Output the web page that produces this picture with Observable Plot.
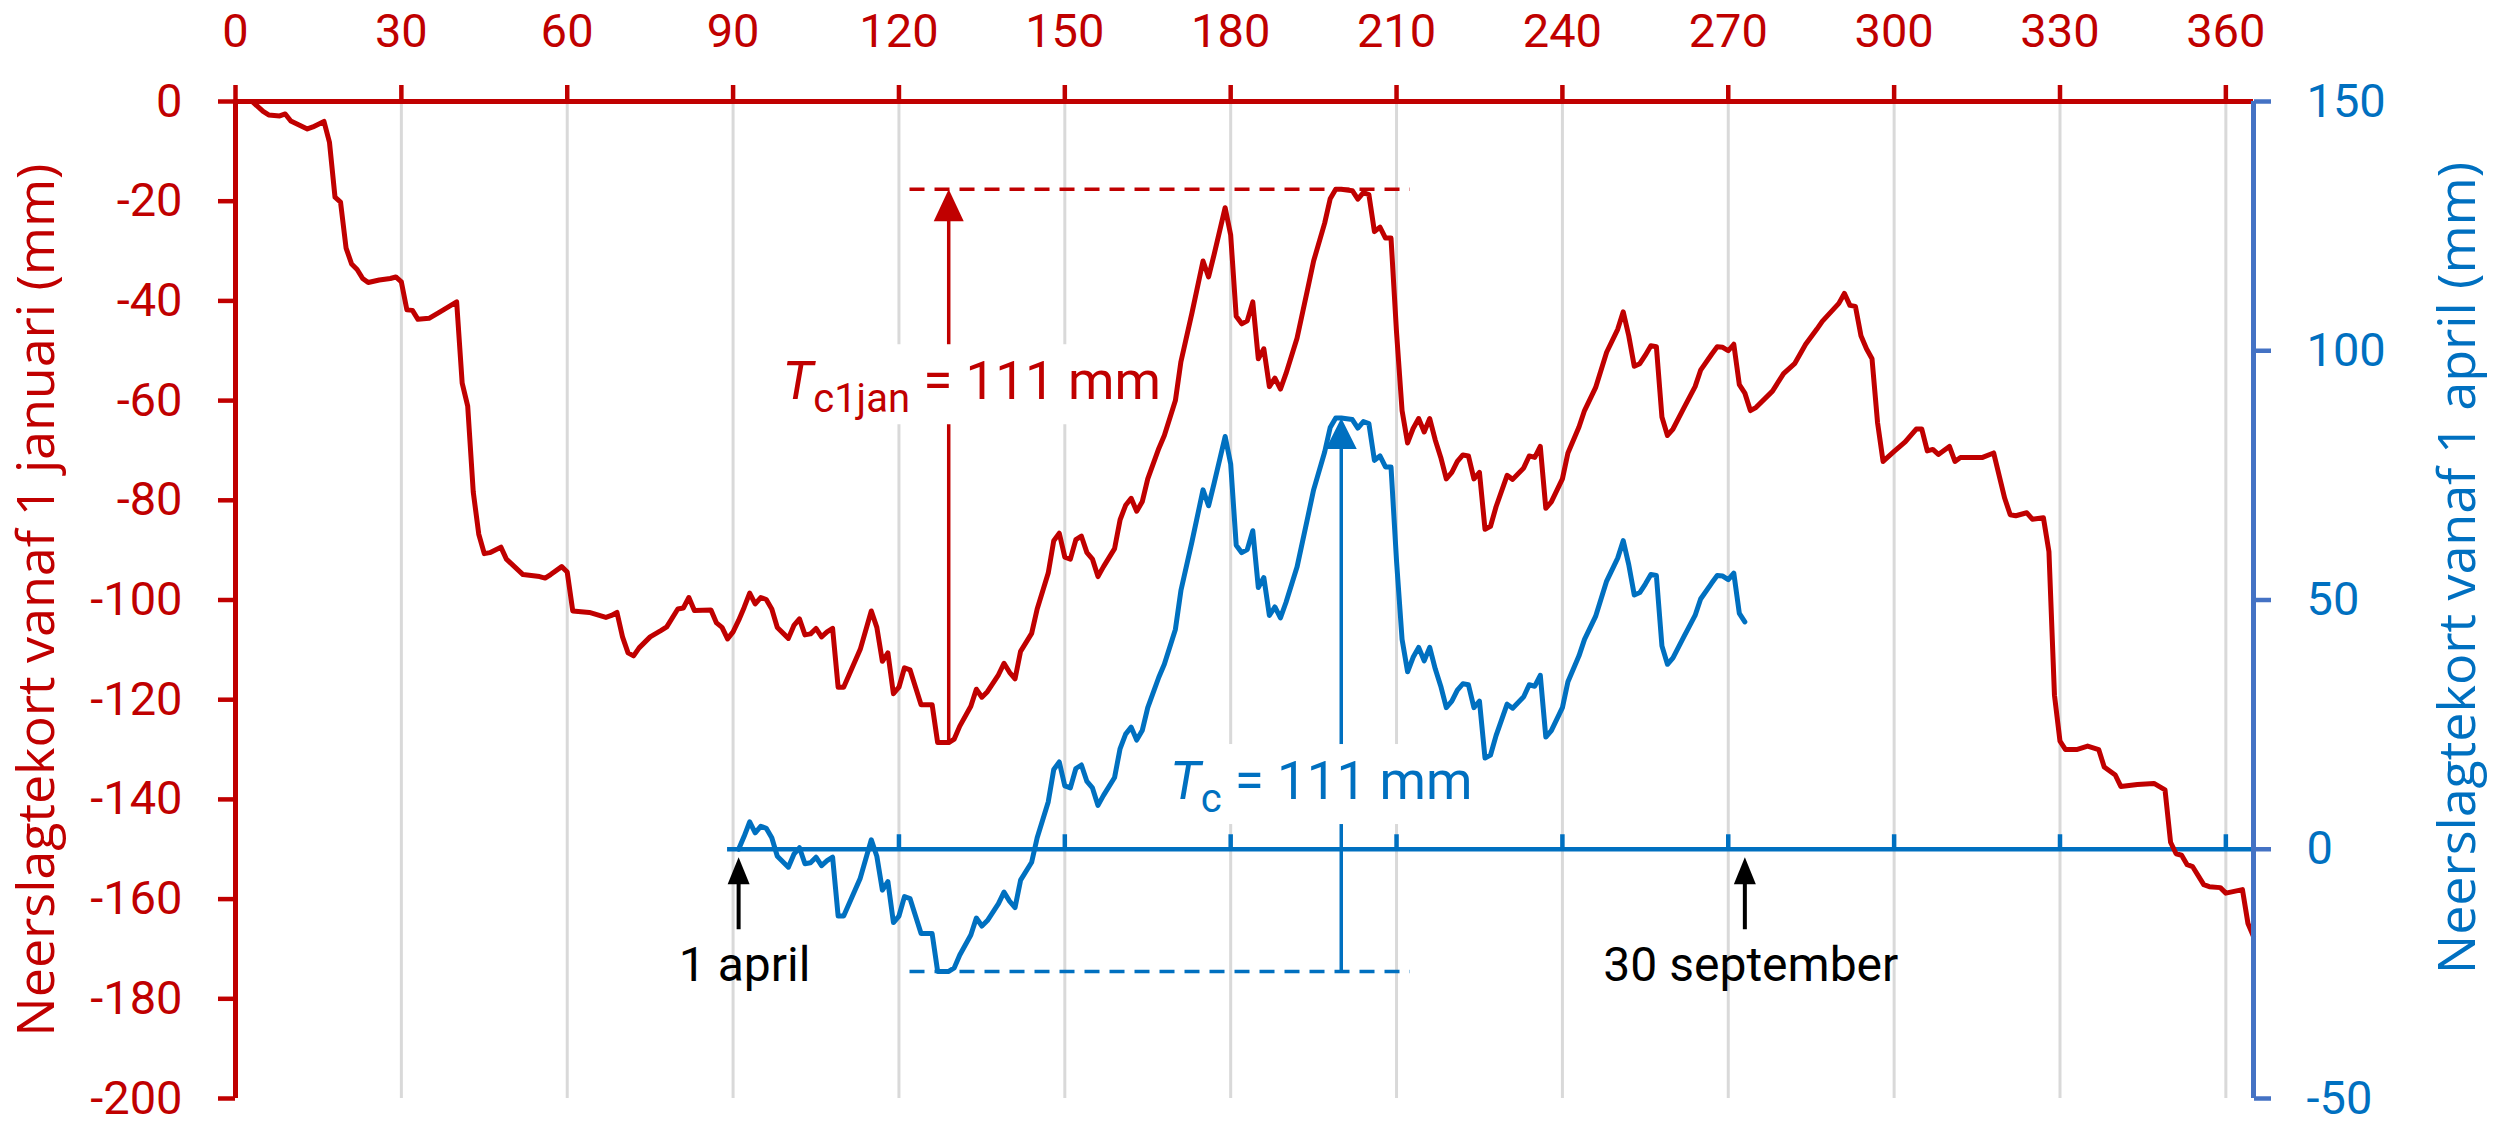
<!DOCTYPE html>
<html>
<head>
<meta charset="utf-8">
<script src="https://cdn.jsdelivr.net/npm/d3@7"></script>
<script src="https://cdn.jsdelivr.net/npm/@observablehq/plot@0.6"></script>
<style>
  html, body { margin: 0; padding: 0; background: #fff; }
  #chart svg { display: block; }
</style>
</head>
<body>
<div id="chart"></div>
<script>
// Day of the year (1 January = 0)
const days = [
  0, 3, 5, 6, 8, 9, 10, 13, 14, 16, 17, 18, 19, 20, 21, 22, 23, 24, 26, 28, 29, 30,
  31, 32, 33, 35, 37, 40, 41, 42, 43, 44, 45, 46, 48, 49, 52, 55, 56, 57, 59, 60,
  61, 64, 67, 68, 69, 70, 71, 72, 73, 75, 77, 78, 80, 81, 82, 83, 86, 87, 88, 89, 90,
  91, 92, 93, 94, 95, 96, 97, 98, 100, 101, 102, 103, 104, 105, 106, 107, 108, 109, 110,
  113, 115, 116, 117, 118, 119, 120, 121, 122, 123, 124, 126, 127, 129, 130, 131, 133,
  134, 135, 136, 138, 139, 140, 141, 142, 144, 145, 147, 148, 149, 150, 151, 152, 153,
  154, 155, 156, 157, 159, 160, 161, 162, 163, 164, 165, 167, 168, 170, 171, 173, 175,
  176, 177, 179, 180, 181, 182, 183, 184, 185, 186, 187, 188, 189, 190, 192, 194, 195,
  197, 198, 199, 200, 202, 203, 204, 205, 206, 207, 208, 209, 210, 211, 212, 213, 214,
  215, 216, 217, 218, 219, 220, 221, 222, 223, 224, 225, 226, 227, 228, 230, 231, 233,
  234, 235, 236, 237, 238, 240, 241, 243, 244, 246, 248, 250, 251, 252, 253, 254, 255,
  256, 257, 258, 259, 260, 262, 264, 265, 267, 268, 269, 270, 271, 272, 273, 274, 275,
  278, 280, 282, 284, 286, 287, 290, 291, 292, 293, 294, 295, 296, 297, 298, 300, 302,
  304, 305, 306, 307, 308, 310, 311, 312, 316, 318, 320, 321, 322, 324, 325, 327, 328,
  329, 330, 331, 333, 335, 337, 338, 340, 341, 344, 347, 349, 350, 351, 352, 353, 354,
  356, 357, 359, 360, 363, 364, 365
];

// Cumulative precipitation deficit since 1 January (mm), one value per entry in `days`
const deficitJan = [
  0, 0, -2, -2.7, -2.9, -2.5, -3.9, -5.5, -5.1, -4, -8.2, -19.2, -20.2, -29.4, -32.6, -33.7, -35.5, -36.3, -35.8, -35.5, -35.2, -36.2,
  -41.8, -41.9, -43.7, -43.5, -42.2, -40.2, -56.5, -61.1, -78.3, -86.8, -90.7, -90.5, -89.4, -91.8, -94.9, -95.3, -95.6, -94.9, -93.3, -94.4,
  -102.2, -102.5, -103.5, -103.1, -102.5, -107.4, -110.6, -111.2, -109.6, -107.4, -106.1, -105.4, -101.8, -101.6, -99.5, -102.1, -102, -104.6, -105.5, -107.8, -106.4,
  -104.1, -101.5, -98.6, -100.8, -99.5, -99.9, -101.8, -105.5, -107.7, -105.1, -103.8, -107, -106.8, -105.7, -107.4, -106.4, -105.7, -117.5, -117.5,
  -109.9, -102.2, -105.5, -112.3, -110.6, -118.8, -117.5, -113.6, -114, -117.5, -121, -121, -128.6, -128.6, -127.9, -125.3, -121.3,
  -117.9, -119.5, -118.4, -115, -112.7, -114.5, -115.8, -110.3, -106.7, -101.8, -94.6, -88.1, -86.6, -91.4, -91.8, -87.9, -87.2,
  -90.5, -91.8, -95.3, -93.3, -89.7, -83.9, -81, -79.6, -82.2, -80.3, -75.7, -69.6, -67, -60, -52.2, -42.4, -32,
  -35.2, -30.7, -21.3, -26.8, -43.1, -44.6, -44, -40.2, -51.6, -49.6, -57.2, -55.5, -57.7, -54.6, -47.5, -37.2, -32,
  -24.4, -19.5, -17.6, -17.6, -17.9, -19.6, -18.3, -18.7, -26.1, -25.2, -27.4, -27.4, -46.3, -62, -68.5, -65.6, -63.6,
  -66.3, -63.6, -67.9, -71.4, -75.7, -74.4, -72.2, -70.9, -71.1, -75.7, -74.4, -85.8, -85.2, -81.3, -75, -75.8, -73.5,
  -71.1, -71.4, -69.2, -81.6, -80.3, -75.7, -70.5, -65.3, -62, -57.4, -50.3, -45.7, -42.2, -47, -53.1, -52.6, -50.9,
  -49, -49.2, -63.3, -67, -65.7, -61.4, -57.2, -53.9, -50.7, -49.2, -49.3, -50, -48.7, -56.8, -58.5, -62, -61.4,
  -58.1, -54.6, -52.6, -48.7, -45.7, -44.1, -40.5, -38.5, -40.9, -41.1, -47, -49.6, -51.6, -64.4, -72.2, -70.2, -68.3,
  -65.7, -65.7, -70.1, -69.8, -70.8, -69.2, -72.2, -71.4, -71.4, -70.5, -79.6, -82.9, -83.1, -82.5, -83.8, -83.5, -90.3,
  -119.1, -128.3, -130, -130, -129.3, -130, -133.5, -135.1, -137.4, -137, -136.8, -138.1, -148.6, -150.9, -151.2, -153.1, -153.5,
  -157.1, -157.5, -157.7, -158.8, -158.1, -164.9, -167.5
];

// Season markers (day of year)
const april1 = 91;
const september30 = 273;
const markers = [
  {day: april1, label: "1 april"},
  {day: september30, label: "30 september"}
];

// Axis ticks
const xTicks = d3.range(0, 361, 30);
const gridDays = d3.range(30, 361, 30);
const leftTicks = d3.range(-200, 1, 20);
const rightTicks = [-50, 0, 50, 100, 150];
const aprilAxisTicks = d3.range(120, 361, 30);

// The secondary axis (deficit since 1 April) has its zero at -150 on the primary axis
const rightOffset = 150;
const xMax = 365;
const aprilAxisStart = april1 - 2;
const spanStart = 122, spanEnd = 212.5;  // extent of the dashed reference lines

const red = "#c00000";
const blue = "#0070c0";
const axisBlue = "#4472c4";
const grid = "#d9d9d9";

// Series
const jan = days.map((d, i) => ({day: d, value: deficitJan[i]}));
const base = jan.find(d => d.day === april1).value;
const apr = jan
  .filter(d => d.day >= april1 && d.day <= september30)
  .map(d => ({day: d.day, value: d.value - base}));
const season = jan.filter(d => d.day >= april1 && d.day <= september30);

// Largest rise of the deficit within the season
const lowJ = d3.min(season, d => d.value);
const highJ = d3.max(season, d => d.value);
const lowDayJ = season.filter(d => d.value === lowJ).at(-1).day;
const lowA = d3.min(apr, d => d.value);
const highA = d3.max(apr, d => d.value);
const highDayA = apr.filter(d => d.value === highA).at(-1).day;
const tcJan = Math.round(highJ - lowJ);
const tcApr = Math.round(highA - lowA);

// Custom symbols, drawn in pixels around the anchor point
const head = (w, h) => ({draw(ctx) { ctx.moveTo(0, 0); ctx.lineTo(w / 2, h); ctx.lineTo(-w / 2, h); ctx.closePath(); }});
const tickUp = {draw(ctx) { ctx.moveTo(0, 0); ctx.lineTo(0, -15); }};
const markerShaft = {draw(ctx) { ctx.moveTo(0, 20); ctx.lineTo(0, 80); }};

const chart = Plot.plot({
  width: 2509,
  height: 1124,
  marginLeft: 235,
  marginRight: 256,
  marginTop: 101,
  marginBottom: 26,
  x: {domain: [0, xMax], axis: null},
  y: {domain: [-200, 0], axis: null},
  style: {fontFamily: "Roboto, sans-serif", background: "#fff", overflow: "visible"},
  marks: [
    // vertical grid
    Plot.ruleX(gridDays, {stroke: grid, strokeWidth: 3}),

    // secondary horizontal axis at zero of the 1 April series
    Plot.ruleY([-rightOffset], {x1: aprilAxisStart, x2: xMax, stroke: blue, strokeWidth: 4.5}),
    Plot.dot(aprilAxisTicks, {x: d => d, y: () => -rightOffset, symbol: tickUp, stroke: blue, strokeWidth: 4.5, fill: "none"}),

    // dashed reference levels
    Plot.ruleY([highJ], {x1: spanStart, x2: spanEnd, stroke: red, strokeWidth: 3.5, strokeDasharray: "15,10"}),
    Plot.ruleY([lowA - rightOffset], {x1: spanStart, x2: spanEnd, stroke: blue, strokeWidth: 3.5, strokeDasharray: "15,10"}),

    // Tc arrows
    Plot.ruleX([lowDayJ], {y1: highJ, y2: lowJ, stroke: red, strokeWidth: 3.5, insetTop: 14}),
    Plot.dot([lowDayJ], {x: d => d, y: () => highJ, symbol: head(30, 32), fill: red, stroke: "none"}),
    Plot.ruleX([highDayA], {y1: highA - rightOffset, y2: lowA - rightOffset, stroke: blue, strokeWidth: 3.5, insetTop: 14}),
    Plot.dot([highDayA], {x: d => d, y: () => highA - rightOffset, symbol: head(31, 31), fill: blue, stroke: "none"}),

    // season markers
    Plot.dot(markers, {x: "day", y: () => -rightOffset, symbol: markerShaft, stroke: "#000", strokeWidth: 4, fill: "none"}),
    Plot.dot(markers, {x: "day", y: () => -rightOffset, dy: 8, symbol: head(22, 27), fill: "#000", stroke: "none"}),
    Plot.text(markers, {x: "day", y: () => -rightOffset, text: "label", dy: 132, dx: 6, lineAnchor: "bottom",
      textAnchor: "middle", fontSize: 48, fill: "#000"}),

    // Tc labels (the | marks split off the subscript)
    Plot.text([`T|c1jan| = ${tcJan} mm`], {x: () => lowDayJ, y: () => highJ, dx: 23, dy: 210,
      lineAnchor: "bottom", textAnchor: "middle", fontSize: 53, fill: red}),
    Plot.text([`T|c| = ${tcApr} mm`], {x: () => highDayA, y: () => highA - rightOffset, dx: -20, dy: 381,
      lineAnchor: "bottom", textAnchor: "middle", fontSize: 53, fill: blue}),

    // series
    Plot.line(jan, {x: "day", y: "value", stroke: red, strokeWidth: 5, strokeLinejoin: "round"}),
    Plot.line(apr, {x: "day", y: d => d.value - rightOffset, stroke: blue, strokeWidth: 5, strokeLinejoin: "round"}),

    // axis lines
    Plot.ruleY([0], {stroke: red, strokeWidth: 5}),
    Plot.ruleX([0], {stroke: red, strokeWidth: 5}),
    Plot.ruleX([xMax], {stroke: axisBlue, strokeWidth: 5}),

    // axes
    Plot.axisX({anchor: "top", ticks: xTicks, tickFormat: d => String(d), tickSize: 17, tickPadding: 38,
      stroke: red, fill: red, strokeWidth: 4.5, fontSize: 47, label: null}),
    Plot.axisY({anchor: "left", ticks: leftTicks, tickFormat: d => String(d), tickSize: 17, tickPadding: 36,
      stroke: red, fill: red, strokeWidth: 4.5, fontSize: 47, label: null}),
    Plot.axisY({anchor: "right", ticks: rightTicks.map(v => v - rightOffset), tickFormat: d => String(d + rightOffset),
      tickSize: 17, tickPadding: 36, stroke: axisBlue, fill: blue, strokeWidth: 4.5, fontSize: 47, label: null}),

    // axis titles
    Plot.text(["Neerslagtekort vanaf 1 januari (mm)"], {frameAnchor: "left", rotate: -90, dx: -198,
      textAnchor: "middle", lineAnchor: "middle",
      fontFamily: "'Open Sans', sans-serif", fontSize: 52, fill: red}),
    Plot.text(["Neerslagtekort vanaf 1 april (mm)"], {frameAnchor: "right", rotate: -90, dx: 205, dy: -32,
      textAnchor: "middle", lineAnchor: "middle",
      fontFamily: "'Open Sans', sans-serif", fontSize: 52, fill: blue})
  ]
});

document.getElementById("chart").append(chart);

// Italic T with a lowered subscript, set on a white box
const ns = "http://www.w3.org/2000/svg";
chart.querySelectorAll("text").forEach(t => {
  if (!t.textContent.includes("|")) return;
  const [main, sub, rest] = t.textContent.split("|");
  t.textContent = "";
  const a = document.createElementNS(ns, "tspan");
  a.setAttribute("font-style", "italic");
  a.textContent = main;
  const b = document.createElementNS(ns, "tspan");
  b.setAttribute("font-size", 40);
  b.setAttribute("dy", 13);
  b.textContent = sub;
  const c = document.createElementNS(ns, "tspan");
  c.setAttribute("dy", -13);
  c.textContent = rest;
  t.append(a, b, c);
  const bb = t.getBBox();
  const r = document.createElementNS(ns, "rect");
  r.setAttribute("x", bb.x - 12);
  r.setAttribute("y", bb.y - 6);
  r.setAttribute("width", bb.width + 24);
  r.setAttribute("height", bb.height + 8);
  r.setAttribute("fill", "#fff");
  r.setAttribute("stroke", "none");
  const tr = t.getAttribute("transform");
  if (tr) r.setAttribute("transform", tr);
  t.parentNode.insertBefore(r, t);
});
</script>
</body>
</html>
